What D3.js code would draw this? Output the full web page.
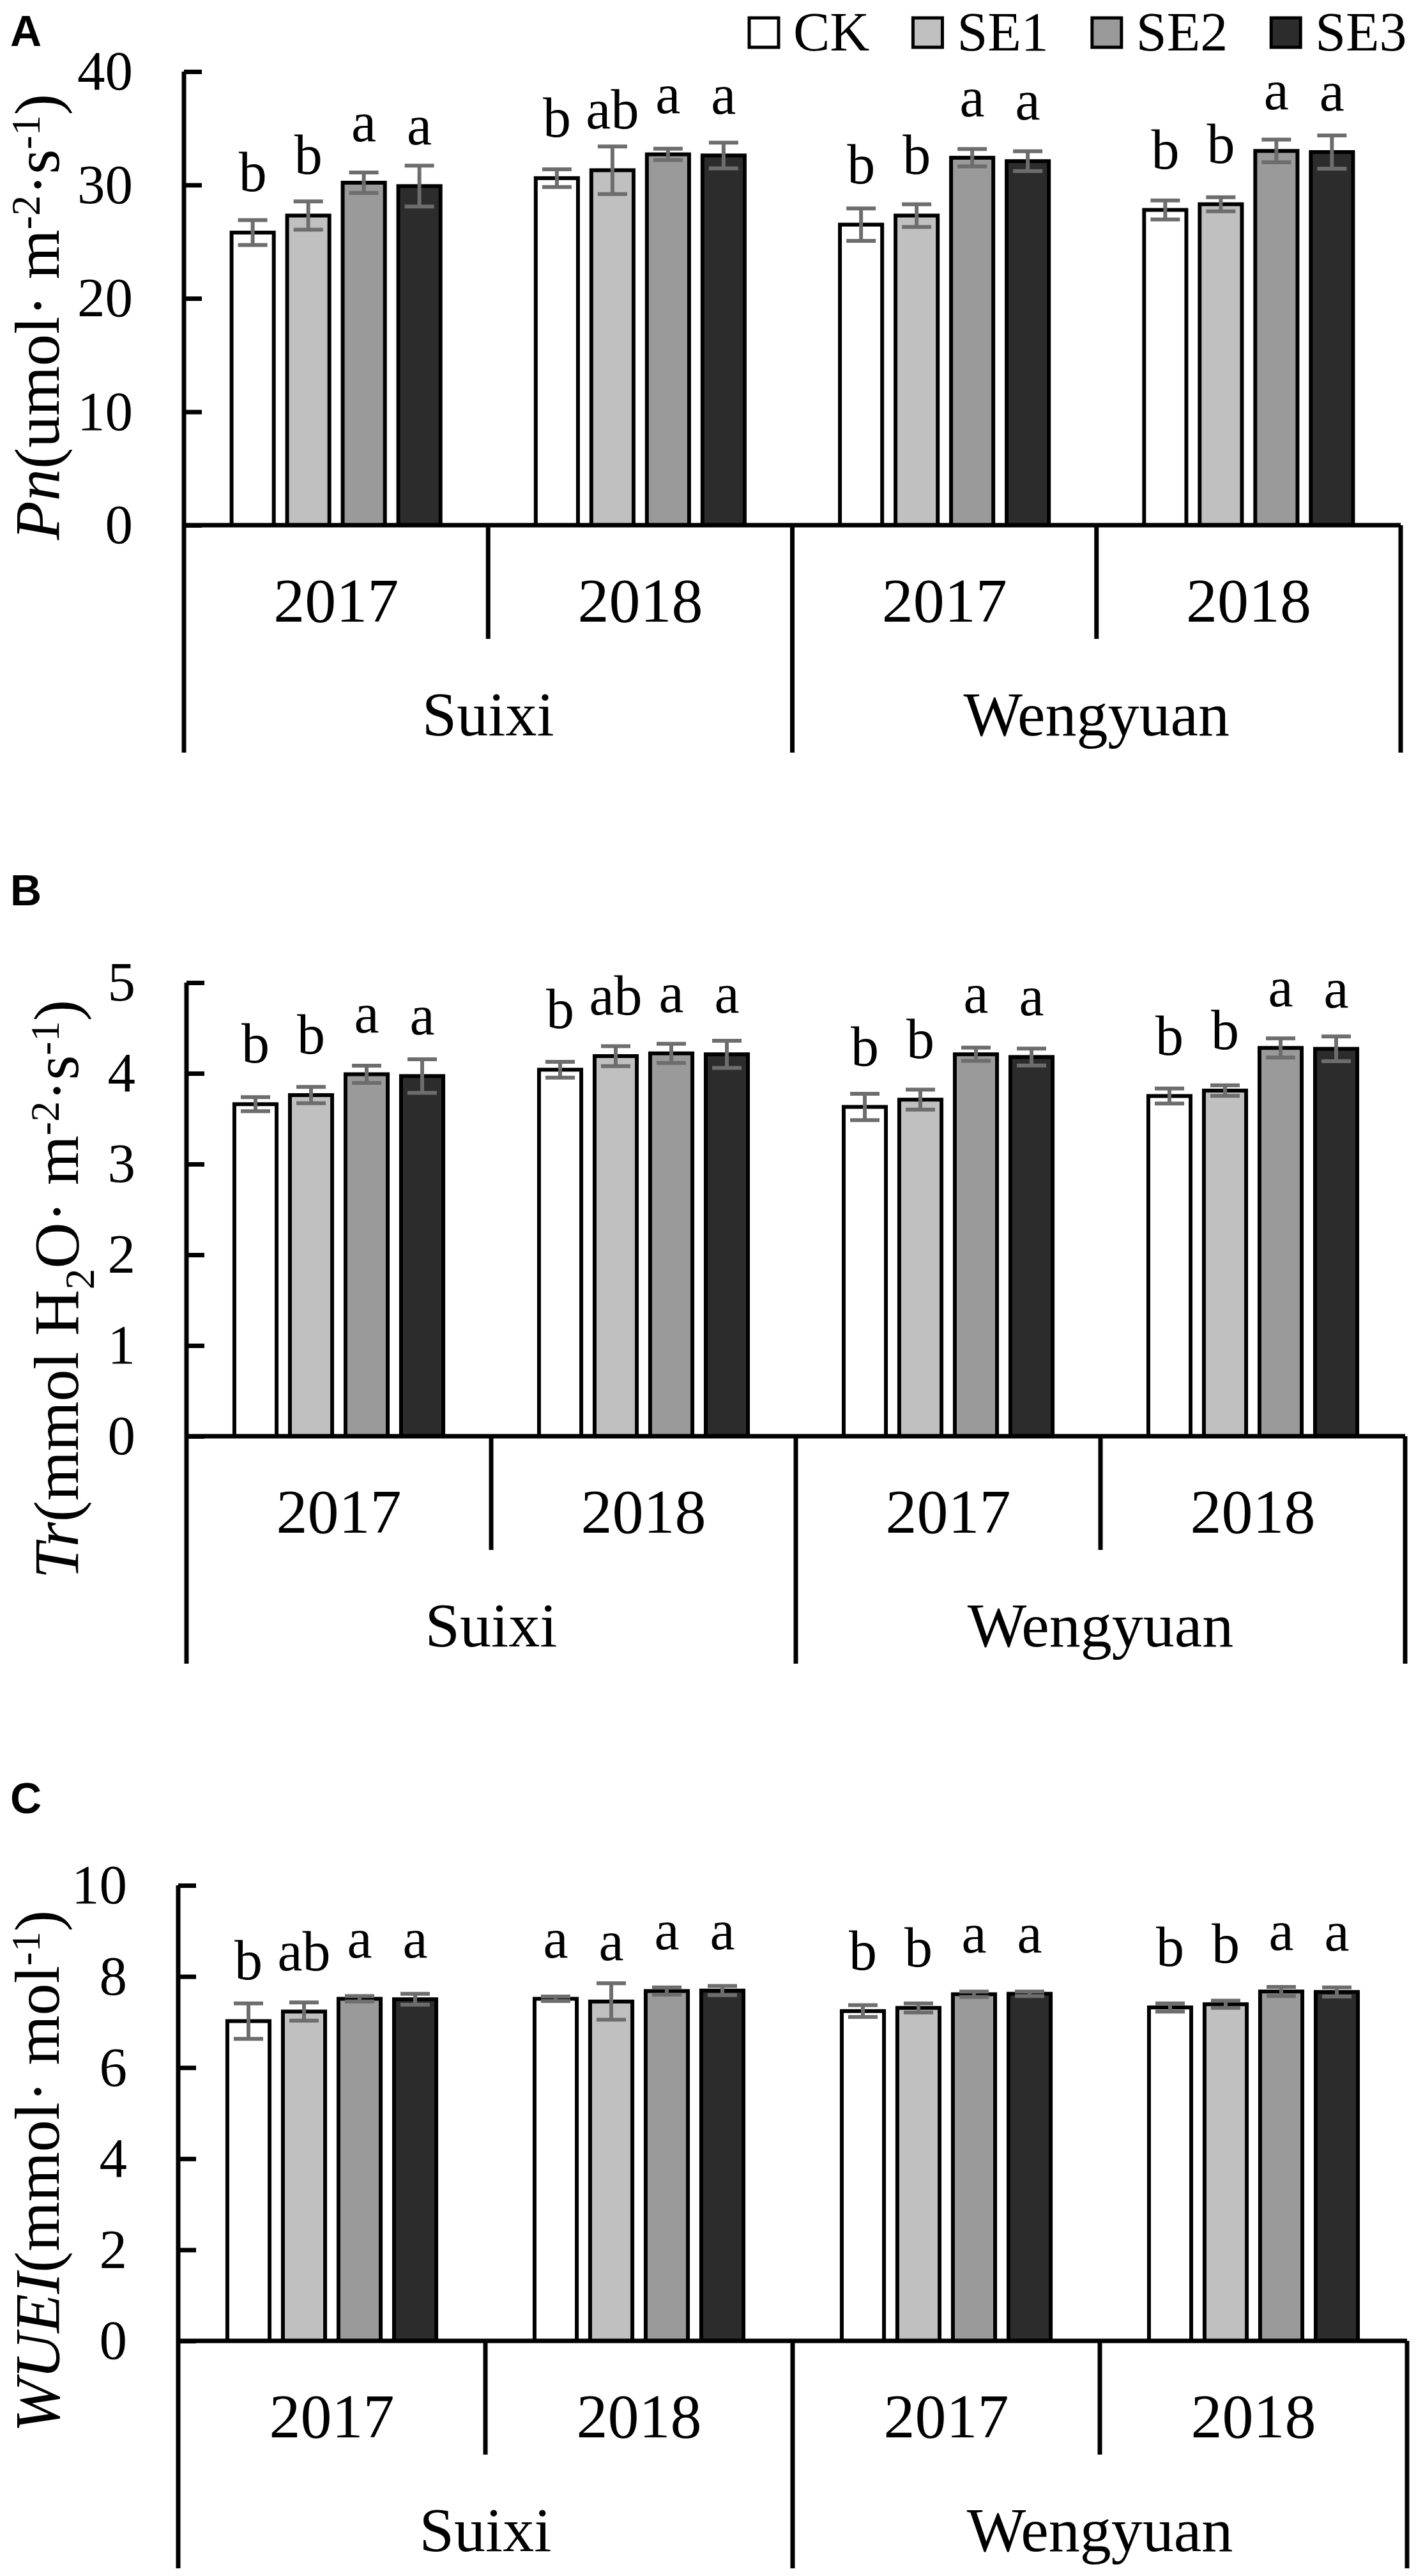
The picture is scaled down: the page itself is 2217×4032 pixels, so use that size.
<!DOCTYPE html>
<html>
<head>
<meta charset="utf-8">
<script src="https://cdn.jsdelivr.net/npm/d3@7"></script>
<style>
  body { margin: 0; background: #fff; }
  svg text { font-family: "Liberation Serif", "Times New Roman", serif; fill: #000; }
</style>
</head>
<body>
<div id="main"></div>
<script>
// treatments and x categories
const treatments = ["CK", "SE1", "SE2", "SE3"];
const years = ["2017", "2018", "2017", "2018"];
const locations = ["Suixi", "Wengyuan"];
const fills = ["#ffffff", "#c0c0c0", "#9a9a9a", "#2c2c2c"];

// Pn, one row per year group (Suixi 2017, Suixi 2018, Wengyuan 2017, Wengyuan 2018)
const pnMean = [
    [25.8, 27.3, 30.2, 29.9],
    [30.6, 31.3, 32.7, 32.6],
    [26.5, 27.3, 32.4, 32.1],
    [27.8, 28.3, 33.0, 32.9]
];
const pnErr = [
    [1.1, 1.25, 0.9, 1.8],
    [0.78, 2.1, 0.5, 1.13],
    [1.43, 1.0, 0.77, 0.87],
    [0.84, 0.62, 1.0, 1.47]
];
const pnLetters = [
    ["b", "b", "a", "a"],
    ["b", "ab", "a", "a"],
    ["b", "b", "a", "a"],
    ["b", "b", "a", "a"]
];

// Tr
const trMean = [
    [3.66, 3.76, 3.99, 3.97],
    [4.04, 4.19, 4.22, 4.21],
    [3.63, 3.71, 4.21, 4.18],
    [3.75, 3.81, 4.28, 4.27]
];
const trErr = [
    [0.077, 0.09, 0.095, 0.185],
    [0.087, 0.11, 0.105, 0.15],
    [0.145, 0.11, 0.073, 0.093],
    [0.083, 0.058, 0.105, 0.136]
];
const trLetters = [
    ["b", "b", "a", "a"],
    ["b", "ab", "a", "a"],
    ["b", "b", "a", "a"],
    ["b", "b", "a", "a"]
];

// WUEI
const wueMean = [
    [7.02, 7.23, 7.51, 7.50],
    [7.51, 7.45, 7.68, 7.69],
    [7.24, 7.31, 7.61, 7.62],
    [7.32, 7.39, 7.67, 7.66]
];
const wueErr = [
    [0.39, 0.2, 0.06, 0.12],
    [0.05, 0.4, 0.08, 0.1],
    [0.13, 0.1, 0.06, 0.05],
    [0.09, 0.08, 0.1, 0.1]
];
const wueLetters = [
    ["b", "ab", "a", "a"],
    ["a", "a", "a", "a"],
    ["b", "b", "a", "a"],
    ["b", "b", "a", "a"]
];

// axis titles, pieces with italic / sup / sub
const pnTitle = [{t: "Pn", i: true}, {t: "(umol· m"}, {t: "-2", sup: true}, {t: "·s"}, {t: "-1", sup: true}, {t: ")"}];
const trTitle = [{t: "Tr", i: true}, {t: "(mmol H"}, {t: "2", sub: true}, {t: "O· m"}, {t: "-2", sup: true}, {t: "·s"}, {t: "-1", sup: true}, {t: ")"}];
const wueTitle = [{t: "WUEI", i: true}, {t: "(mmol· mol"}, {t: "-1", sup: true}, {t: ")"}];

const W = 2217, H = 4032;

const svg = d3.select("#main").append("svg")
    .attr("width", W)
    .attr("height", H);
svg.append("rect").attr("width", W).attr("height", H).attr("fill", "#fff");

const panels = [
    {tag: "A", mean: pnMean, err: pnErr, letters: pnLetters, title: pnTitle, yMax: 40, yStep: 10,
     x0: 288, x1: 2193, top: 112, base: 822, titleX: 92, titleY: 147, tagY: 72},
    {tag: "B", mean: trMean, err: trErr, letters: trLetters, title: trTitle, yMax: 5, yStep: 1,
     x0: 292, x1: 2200, top: 1538, base: 2248, titleX: 122, titleY: 1565, tagY: 1417},
    {tag: "C", mean: wueMean, err: wueErr, letters: wueLetters, title: wueTitle, yMax: 10, yStep: 2,
     x0: 279, x1: 2203, top: 2951, base: 3664, titleX: 92, titleY: 2990, tagY: 2838}
];

panels.forEach(drawPanel);
drawLegend();

function drawPanel(p) {
    const g = svg.append("g");

    const y = d3.scaleLinear().domain([0, p.yMax]).range([p.base, p.top]);
    const xGroup = d3.scaleBand().domain(d3.range(years.length)).range([p.x0, p.x1]);
    const xBar = d3.scaleBand().domain(treatments).range([-174, 174])
        .paddingInner(0.24).paddingOuter(0.12);

    // flatten rows
    const rows = [];
    p.mean.forEach((r, gi) => r.forEach((v, ti) => {
        rows.push({gi, t: treatments[ti], ti, v, e: p.err[gi][ti], l: p.letters[gi][ti]});
    }));
    const cx = d => xGroup(d.gi) + xGroup.bandwidth() / 2 + xBar(d.t) + xBar.bandwidth() / 2;

    // bars
    g.selectAll("rect.bar").data(rows).enter().append("rect")
        .attr("class", "bar")
        .attr("x", d => xGroup(d.gi) + xGroup.bandwidth() / 2 + xBar(d.t))
        .attr("y", d => y(d.v))
        .attr("width", xBar.bandwidth())
        .attr("height", d => y(0) - y(d.v))
        .attr("fill", d => fills[d.ti])
        .attr("stroke", "#000")
        .attr("stroke-width", 6);

    // error bars
    const eb = g.selectAll("g.err").data(rows).enter().append("g")
        .attr("stroke", "#6d6d6d")
        .attr("stroke-width", 6);
    eb.append("line")
        .attr("x1", cx).attr("x2", cx)
        .attr("y1", d => y(d.v - d.e)).attr("y2", d => y(d.v + d.e));
    eb.append("line")
        .attr("x1", d => cx(d) - 23).attr("x2", d => cx(d) + 23)
        .attr("y1", d => y(d.v + d.e)).attr("y2", d => y(d.v + d.e));
    eb.append("line")
        .attr("x1", d => cx(d) - 23).attr("x2", d => cx(d) + 23)
        .attr("y1", d => y(d.v - d.e)).attr("y2", d => y(d.v - d.e));

    // significance letters
    g.selectAll("text.sig").data(rows).enter().append("text")
        .attr("x", cx)
        .attr("y", d => y(d.v) - 65)
        .attr("text-anchor", "middle")
        .style("font-size", "88px")
        .text(d => d.l);

    // y axis, ticks pointing inward
    const ay = g.append("g")
        .attr("transform", `translate(${p.x0},0)`)
        .call(d3.axisLeft(y).tickValues(d3.range(0, p.yMax + 0.001, p.yStep))
            .tickFormat(d3.format("d"))
            .tickSizeInner(-28).tickSizeOuter(0).tickPadding(80));
    ay.select(".domain").remove();
    ay.selectAll(".tick line").attr("stroke", "#000").attr("stroke-width", 7);
    ay.selectAll(".tick text")
        .style("font-family", "'Liberation Serif', 'Times New Roman', serif")
        .style("font-size", "87px")
        .attr("fill", "#000");

    // axis frame lines
    const lw = 7;
    const line = (x1, y1, x2, y2) => g.append("line")
        .attr("x1", x1).attr("y1", y1).attr("x2", x2).attr("y2", y2)
        .attr("stroke", "#000").attr("stroke-width", lw);
    line(p.x0, p.top, p.x0, p.base + 356);
    line(p.x0, p.base, p.x1, p.base);
    line(p.x1, p.base, p.x1, p.base + 356);
    line(xGroup(2), p.base, xGroup(2), p.base + 356);
    [1, 3].forEach(i => line(xGroup(i), p.base, xGroup(i), p.base + 178));

    // category labels
    g.selectAll("text.year").data(years).enter().append("text")
        .attr("x", (d, i) => xGroup(i) + xGroup.bandwidth() / 2)
        .attr("y", p.base + 151)
        .attr("text-anchor", "middle")
        .style("font-size", "98px")
        .text(d => d);
    g.selectAll("text.loc").data(locations).enter().append("text")
        .attr("x", (d, i) => xGroup(i * 2) + xGroup.bandwidth())
        .attr("y", p.base + 329)
        .attr("text-anchor", "middle")
        .style("font-size", "98px")
        .text(d => d);

    // y title, rotated
    const tt = g.append("text")
        .attr("transform", `translate(${p.titleX},${p.titleY}) rotate(-90)`)
        .attr("text-anchor", "end")
        .style("font-size", "100px");
    let shift = 0;
    p.title.forEach(part => {
        const s = tt.append("tspan").text(part.t);
        let target = 0;
        if (part.sup) { target = -30; s.style("font-size", "64px"); }
        if (part.sub) { target = 25; s.style("font-size", "66px"); }
        if (part.i) s.style("font-style", "italic");
        s.attr("dy", target - shift);
        shift = target;
    });

    // panel tag
    g.append("text")
        .attr("x", 16)
        .attr("y", p.tagY)
        .style("font-family", "'Liberation Sans', Arial, sans-serif")
        .style("font-weight", "bold")
        .style("font-size", "68px")
        .text(p.tag);
}

function drawLegend() {
    const lg = svg.append("g");
    let x = 1173;
    treatments.forEach((t, i) => {
        lg.append("rect")
            .attr("x", x).attr("y", 28)
            .attr("width", 46).attr("height", 46)
            .attr("fill", fills[i])
            .attr("stroke", "#000")
            .attr("stroke-width", 5);
        const txt = lg.append("text")
            .attr("x", x + 69)
            .attr("y", 79)
            .style("font-size", "86px")
            .text(t);
        x = x + 69 + txt.node().getComputedTextLength() + 68;
    });
}
</script>
</body>
</html>
